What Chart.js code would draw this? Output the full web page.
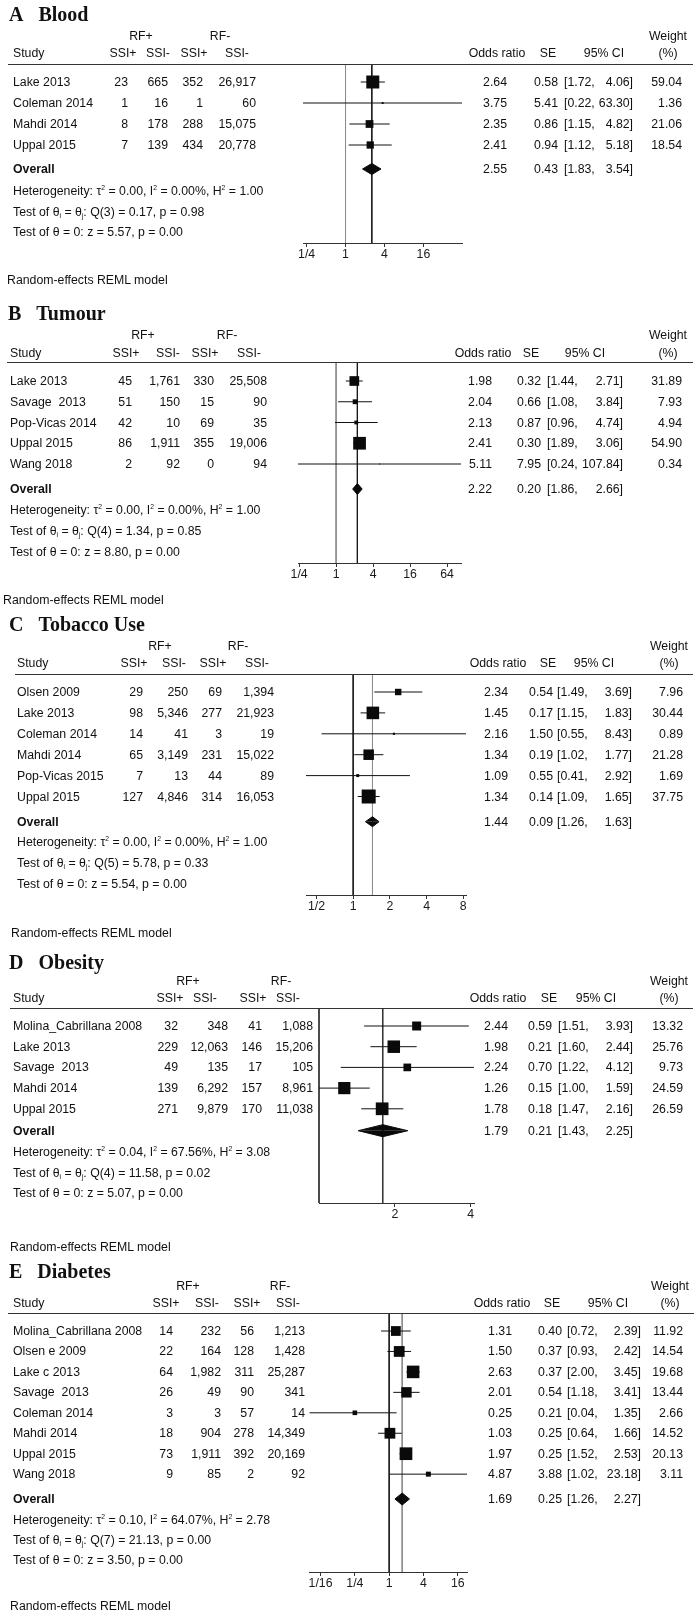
<!DOCTYPE html>
<html><head><meta charset="utf-8">
<script src="https://cdn.jsdelivr.net/npm/chart.js@4.4.1/dist/chart.umd.min.js"></script>
<style>
html,body{margin:0;padding:0;background:#fff;}
#page{position:relative;width:700px;height:1612px;overflow:hidden;font-family:"Liberation Sans",Arial,sans-serif;font-size:12.3px;color:#111;}
.t{position:absolute;white-space:pre;line-height:14px;}
.title{position:absolute;white-space:pre;font-family:"Liberation Serif","Times New Roman",serif;font-weight:bold;font-size:20px;line-height:22px;color:#111;}
.hl{position:absolute;height:0;border-top:1px solid #333;}
canvas{position:absolute;left:0;}
sup,sub{font-size:0.55em;line-height:0;position:relative;vertical-align:baseline;}
sup{top:-0.75em;} sub{top:0.35em;}
</style></head>
<body><div id="page"></div>
<script>
// ---------- A Blood ----------
const bloodStudies = ['Lake 2013','Coleman 2014','Mahdi 2014','Uppal 2015'];
const bloodCounts = [[23,665,352,26917],[1,16,1,60],[8,178,288,15075],[7,139,434,20778]];
const bloodOR = [2.64,3.75,2.35,2.41];
const bloodSE = [0.58,5.41,0.86,0.94];
const bloodLo = [1.72,0.22,1.15,1.12];
const bloodHi = [4.06,63.30,4.82,5.18];
const bloodWeight = [59.04,1.36,21.06,18.54];
const bloodOverall = [2.55,0.43,1.83,3.54];
const bloodHet = [0.00,0.00,1.00];
const bloodQ = [3,0.17,0.98];
const bloodZ = [5.57,0.00];
const bloodTicks = [0.25,1,4,16];
const bloodTickLabels = ['1/4','1','4','16'];

// ---------- B Tumour ----------
const tumourStudies = ['Lake 2013','Savage  2013','Pop-Vicas 2014','Uppal 2015','Wang 2018'];
const tumourCounts = [[45,1761,330,25508],[51,150,15,90],[42,10,69,35],[86,1911,355,19006],[2,92,0,94]];
const tumourOR = [1.98,2.04,2.13,2.41,5.11];
const tumourSE = [0.32,0.66,0.87,0.30,7.95];
const tumourLo = [1.44,1.08,0.96,1.89,0.24];
const tumourHi = [2.71,3.84,4.74,3.06,107.84];
const tumourWeight = [31.89,7.93,4.94,54.90,0.34];
const tumourOverall = [2.22,0.20,1.86,2.66];
const tumourHet = [0.00,0.00,1.00];
const tumourQ = [4,1.34,0.85];
const tumourZ = [8.80,0.00];
const tumourTicks = [0.25,1,4,16,64];
const tumourTickLabels = ['1/4','1','4','16','64'];

// ---------- C Tobacco Use ----------
const tobaccoStudies = ['Olsen 2009','Lake 2013','Coleman 2014','Mahdi 2014','Pop-Vicas 2015','Uppal 2015'];
const tobaccoCounts = [[29,250,69,1394],[98,5346,277,21923],[14,41,3,19],[65,3149,231,15022],[7,13,44,89],[127,4846,314,16053]];
const tobaccoOR = [2.34,1.45,2.16,1.34,1.09,1.34];
const tobaccoSE = [0.54,0.17,1.50,0.19,0.55,0.14];
const tobaccoLo = [1.49,1.15,0.55,1.02,0.41,1.09];
const tobaccoHi = [3.69,1.83,8.43,1.77,2.92,1.65];
const tobaccoWeight = [7.96,30.44,0.89,21.28,1.69,37.75];
const tobaccoOverall = [1.44,0.09,1.26,1.63];
const tobaccoHet = [0.00,0.00,1.00];
const tobaccoQ = [5,5.78,0.33];
const tobaccoZ = [5.54,0.00];
const tobaccoTicks = [0.5,1,2,4,8];
const tobaccoTickLabels = ['1/2','1','2','4','8'];

// ---------- D Obesity ----------
const obesityStudies = ['Molina_Cabrillana 2008','Lake 2013','Savage  2013','Mahdi 2014','Uppal 2015'];
const obesityCounts = [[32,348,41,1088],[229,12063,146,15206],[49,135,17,105],[139,6292,157,8961],[271,9879,170,11038]];
const obesityOR = [2.44,1.98,2.24,1.26,1.78];
const obesitySE = [0.59,0.21,0.70,0.15,0.18];
const obesityLo = [1.51,1.60,1.22,1.00,1.47];
const obesityHi = [3.93,2.44,4.12,1.59,2.16];
const obesityWeight = [13.32,25.76,9.73,24.59,26.59];
const obesityOverall = [1.79,0.21,1.43,2.25];
const obesityHet = [0.04,67.56,3.08];
const obesityQ = [4,11.58,0.02];
const obesityZ = [5.07,0.00];
const obesityTicks = [2,4];
const obesityTickLabels = ['2','4'];

// ---------- E Diabetes ----------
const diabetesStudies = ['Molina_Cabrillana 2008','Olsen e 2009','Lake c 2013','Savage  2013','Coleman 2014','Mahdi 2014','Uppal 2015','Wang 2018'];
const diabetesCounts = [[14,232,56,1213],[22,164,128,1428],[64,1982,311,25287],[26,49,90,341],[3,3,57,14],[18,904,278,14349],[73,1911,392,20169],[9,85,2,92]];
const diabetesOR = [1.31,1.50,2.63,2.01,0.25,1.03,1.97,4.87];
const diabetesSE = [0.40,0.37,0.37,0.54,0.21,0.25,0.25,3.88];
const diabetesLo = [0.72,0.93,2.00,1.18,0.04,0.64,1.52,1.02];
const diabetesHi = [2.39,2.42,3.45,3.41,1.35,1.66,2.53,23.18];
const diabetesWeight = [11.92,14.54,19.68,13.44,2.66,14.52,20.13,3.11];
const diabetesOverall = [1.69,0.25,1.26,2.27];
const diabetesHet = [0.10,64.07,2.78];
const diabetesQ = [7,21.13,0.00];
const diabetesZ = [3.50,0.00];
const diabetesTicks = [0.0625,0.25,1,4,16];
const diabetesTickLabels = ['1/16','1/4','1','4','16'];

// ---------- layout (page pixels) ----------
const layoutA = {top:0,h:300,title:14,titleX:9,rf:36,hdr:53,line:64,row1:82,pitch:21,overall:169,het:[191,211.5,232],axis:243,reml:280,remlX:7,
  plotL:303,plotR:462,lineL:8,lineR:693,studyX:13,cntR:[128,168,203,256],hdrC:[123,158,194,237],rfC:[141,220],
  orR:507,seR:558,ciL:564,ciR:633,wR:682,orC:497,seC:548,ciC:604,wC:668,nullColor:'#8c8c8c',ovColor:'#1a1a1a',sq:13,diamondH:11};
const layoutB = {top:300,h:290,title:313,titleX:8,rf:335,hdr:353,line:362,row1:381,pitch:20.75,overall:489,het:[510,530.5,552],axis:563,reml:600,remlX:3,
  plotL:298,plotR:461,lineL:7,lineR:693,studyX:10,cntR:[132,180,214,267],hdrC:[126,168,205,249],rfC:[143,227],
  orR:492,seR:541,ciL:547,ciR:623,wR:682,orC:483,seC:531,ciC:585,wC:668,nullColor:'#8c8c8c',ovColor:'#1a1a1a',sq:12.7,diamondH:11};
const layoutC = {top:590,h:360,title:624,titleX:9,rf:646,hdr:663,line:674,row1:692,pitch:20.9,overall:821.7,het:[842,863,884],axis:895,reml:933,remlX:11,
  plotL:306,plotR:466,lineL:15,lineR:693,studyX:17,cntR:[143,188,222,274],hdrC:[134,174,213,257],rfC:[160,238],
  orR:508,seR:553,ciL:557,ciR:632,wR:683,orC:498,seC:548,ciC:594,wC:669,nullColor:'#1a1a1a',ovColor:'#8c8c8c',sq:14,diamondH:10};
const layoutD = {top:950,h:310,title:962,titleX:9,rf:981,hdr:998,line:1008,row1:1026,pitch:20.7,overall:1130.7,het:[1152,1172.5,1193],axis:1203,reml:1247,remlX:10,
  plotL:319,plotR:474,lineL:10,lineR:693,studyX:13,cntR:[178,228,262,313],hdrC:[170,205,253,288],rfC:[188,281],
  orR:508,seR:552,ciL:558,ciR:633,wR:683,orC:498,seC:549,ciC:596,wC:669,nullColor:'#333',ovColor:'#333',sq:12.7,diamondH:12};
const layoutE = {top:1260,h:352,title:1271,titleX:9,rf:1286,hdr:1303,line:1313,row1:1331,pitch:20.45,overall:1499,het:[1520,1540,1560],axis:1572,reml:1606,remlX:10,
  plotL:309.5,plotR:467,lineL:8,lineR:694,studyX:13,cntR:[173,221,254,305],hdrC:[166,207,247,288],rfC:[188,280],
  orR:512,seR:562,ciL:567,ciR:641,wR:683,orC:502,seC:552,ciC:608,wC:670,nullColor:'#1a1a1a',ovColor:'#8c8c8c',sq:12.7,diamondH:12};

const panels = [
  {letter:'A',name:'Blood',studies:bloodStudies,counts:bloodCounts,or:bloodOR,se:bloodSE,lo:bloodLo,hi:bloodHi,wt:bloodWeight,overall:bloodOverall,het:bloodHet,q:bloodQ,z:bloodZ,ticks:bloodTicks,tickLabels:bloodTickLabels,L:layoutA},
  {letter:'B',name:'Tumour',studies:tumourStudies,counts:tumourCounts,or:tumourOR,se:tumourSE,lo:tumourLo,hi:tumourHi,wt:tumourWeight,overall:tumourOverall,het:tumourHet,q:tumourQ,z:tumourZ,ticks:tumourTicks,tickLabels:tumourTickLabels,L:layoutB},
  {letter:'C',name:'Tobacco Use',studies:tobaccoStudies,counts:tobaccoCounts,or:tobaccoOR,se:tobaccoSE,lo:tobaccoLo,hi:tobaccoHi,wt:tobaccoWeight,overall:tobaccoOverall,het:tobaccoHet,q:tobaccoQ,z:tobaccoZ,ticks:tobaccoTicks,tickLabels:tobaccoTickLabels,L:layoutC},
  {letter:'D',name:'Obesity',studies:obesityStudies,counts:obesityCounts,or:obesityOR,se:obesitySE,lo:obesityLo,hi:obesityHi,wt:obesityWeight,overall:obesityOverall,het:obesityHet,q:obesityQ,z:obesityZ,ticks:obesityTicks,tickLabels:obesityTickLabels,L:layoutD},
  {letter:'E',name:'Diabetes',studies:diabetesStudies,counts:diabetesCounts,or:diabetesOR,se:diabetesSE,lo:diabetesLo,hi:diabetesHi,wt:diabetesWeight,overall:diabetesOverall,het:diabetesHet,q:diabetesQ,z:diabetesZ,ticks:diabetesTicks,tickLabels:diabetesTickLabels,L:layoutE}
];

const AXH = 24;
const page = document.getElementById('page');
const fmt = n => n.toLocaleString('en-US');
const f2 = n => n.toFixed(2);

function put(html, x, y, align, opts) {
  opts = opts || {};
  const d = document.createElement('div');
  d.className = opts.cls || 't';
  d.innerHTML = html;
  d.style.top = (y - (opts.off != null ? opts.off : 7)) + 'px';
  if (align === 'r') d.style.right = (700 - x) + 'px';
  else if (align === 'c') { d.style.left = x + 'px'; d.style.transform = 'translateX(-50%)'; }
  else d.style.left = x + 'px';
  if (opts.bold) d.style.fontWeight = 'bold';
  page.appendChild(d);
}

function buildPanel(P) {
  const L = P.L;
  const rowVal = px => 1 + (px - L.row1) / L.pitch;
  const yMin = rowVal(L.line), yMax = rowVal(L.axis);
  const ovRow = rowVal(L.overall);
  const xmin = Math.min(...P.lo, P.overall[2], 1);
  const xmax = Math.max(...P.hi, P.overall[3]);

  const canvas = document.createElement('canvas');
  canvas.width = 700; canvas.height = L.h;
  canvas.style.top = L.top + 'px'; canvas.style.width = '700px'; canvas.style.height = L.h + 'px';
  page.appendChild(canvas);

  const ds = [];
  ds.push({type:'line', data:[{x:1,y:yMin},{x:1,y:yMax}], borderColor:L.nullColor, borderWidth:1, pointRadius:0, fill:false, order:3, clip:false});
  ds.push({type:'line', data:[{x:P.overall[0],y:yMin},{x:P.overall[0],y:yMax}], borderColor:L.ovColor, borderWidth:1, pointRadius:0, fill:false, order:3, clip:false});
  P.studies.forEach((s, i) => ds.push({type:'line', data:[{x:P.lo[i],y:i+1},{x:P.hi[i],y:i+1}], borderColor:'#111', borderWidth:1, pointRadius:0, fill:false, order:2, clip:false}));
  const wmax = Math.max(...P.wt);
  ds.push({type:'scatter', data:P.or.map((v, i) => ({x:v, y:i+1})), pointStyle:'rect',
    pointRadius:P.wt.map(w => Math.max(0.6, L.sq * Math.sqrt(w / wmax) / Math.SQRT2)),
    backgroundColor:'#0a0a0a', borderColor:'#0a0a0a', borderWidth:0, order:0, clip:false});
  const hh = (L.diamondH / 2) / L.pitch;
  [-1, 1].forEach(sg => ds.push({type:'line', data:[{x:P.overall[2],y:ovRow},{x:P.overall[0],y:ovRow + sg*hh},{x:P.overall[3],y:ovRow}],
    borderColor:'#0a0a0a', backgroundColor:'#0a0a0a', borderWidth:1, pointRadius:0, tension:0, fill:{value:ovRow}, order:0, clip:false}));

  const chart = new Chart(canvas, {
    type:'scatter',
    data:{datasets:ds},
    options:{
      responsive:false, animation:false, events:[],
      layout:{padding:{left:L.plotL, right:700 - L.plotR, top:L.line - L.top, bottom:L.h - (L.axis - L.top) - AXH}},
      plugins:{legend:{display:false}, tooltip:{enabled:false}, title:{display:false}},
      scales:{
        x:{type:'logarithmic', min:xmin, max:xmax, bounds:'data',
          afterFit:s => { s.height = AXH; },
          afterBuildTicks:s => { s.ticks = P.ticks.map(v => ({value:v})); },
          ticks:{autoSkip:false, maxRotation:0, minRotation:0, padding:0, color:'#1a1a1a',
            font:{family:'"Liberation Sans", Arial, sans-serif', size:12.3},
            callback:(v, i) => P.tickLabels[i]},
          grid:{display:true, drawOnChartArea:false, drawTicks:true, tickLength:4, color:'#333', lineWidth:1},
          border:{display:true, color:'#333', width:1}},
        y:{type:'linear', display:false, reverse:true, min:yMin, max:yMax}
      }
    }
  });

  const Y = v => L.top + chart.scales.y.getPixelForValue(v);

  put(P.letter + '<span style="margin-left:15px">' + P.name + '</span>', L.titleX, L.title, 'l', {cls:'title', off:11});
  put('RF+', L.rfC[0], L.rf, 'c');
  put('RF-', L.rfC[1], L.rf, 'c');
  put('Weight', L.wC, L.rf, 'c');
  put('Study', L.studyX, L.hdr, 'l');
  ['SSI+','SSI-','SSI+','SSI-'].forEach((h, k) => put(h, L.hdrC[k], L.hdr, 'c'));
  put('Odds ratio', L.orC, L.hdr, 'c');
  put('SE', L.seC, L.hdr, 'c');
  put('95% CI', L.ciC, L.hdr, 'c');
  put('(%)', L.wC, L.hdr, 'c');
  const hl = document.createElement('div');
  hl.className = 'hl'; hl.style.left = L.lineL + 'px'; hl.style.width = (L.lineR - L.lineL) + 'px'; hl.style.top = (L.line - 0.5) + 'px';
  page.appendChild(hl);
  P.studies.forEach((s, i) => {
    const y = Y(i + 1);
    put(s, L.studyX, y, 'l');
    P.counts[i].forEach((c, k) => put(fmt(c), L.cntR[k], y, 'r'));
    put(f2(P.or[i]), L.orR, y, 'r');
    put(f2(P.se[i]), L.seR, y, 'r');
    put('[' + f2(P.lo[i]) + ',', L.ciL, y, 'l');
    put(f2(P.hi[i]) + ']', L.ciR, y, 'r');
    put(f2(P.wt[i]), L.wR, y, 'r');
  });
  const yo = Y(ovRow);
  put('Overall', L.studyX, yo, 'l', {bold:true});
  put(f2(P.overall[0]), L.orR, yo, 'r');
  put(f2(P.overall[1]), L.seR, yo, 'r');
  put('[' + f2(P.overall[2]) + ',', L.ciL, yo, 'l');
  put(f2(P.overall[3]) + ']', L.ciR, yo, 'r');
  put('Heterogeneity: \u03c4<sup>2</sup> = ' + f2(P.het[0]) + ', I<sup>2</sup> = ' + f2(P.het[1]) + '%, H<sup>2</sup> = ' + f2(P.het[2]), L.studyX, L.het[0], 'l');
  put('Test of \u03b8<sub>i</sub> = \u03b8<sub>j</sub>: Q(' + P.q[0] + ') = ' + f2(P.q[1]) + ', p = ' + f2(P.q[2]), L.studyX, L.het[1], 'l');
  put('Test of \u03b8 = 0: z = ' + f2(P.z[0]) + ', p = ' + f2(P.z[1]), L.studyX, L.het[2], 'l');
  put('Random-effects REML model', L.remlX, L.reml, 'l');
}

panels.forEach(buildPanel);
</script>
</body></html>
